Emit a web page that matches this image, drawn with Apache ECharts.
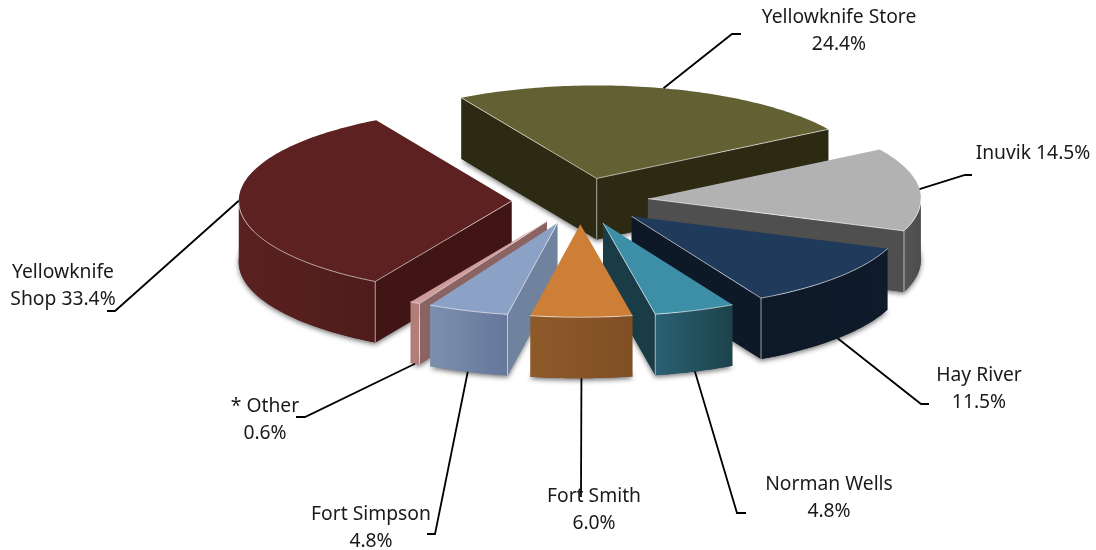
<!DOCTYPE html>
<html>
<head>
<meta charset="utf-8">
<title>Exploded 3D pie</title>
<script src="https://cdn.jsdelivr.net/npm/echarts@6/dist/echarts.min.js"></script>
<style>
  html, body { margin: 0; padding: 0; background: #fff; }
  #chart { width: 1096px; height: 550px; }
</style>
</head>
<body>
<div id="chart"></div>
<script>
// data, clockwise from the first slice
var categories = ['Yellowknife\nShop', 'Yellowknife Store', 'Inuvik', 'Hay River', 'Norman Wells', 'Fort Smith', 'Fort Simpson', '* Other'];
var values = [33.4, 24.4, 14.5, 11.5, 4.8, 6.0, 4.8, 0.6];
var labelSeparators = [' ', '\n', ' ', '\n', '\n', '\n', '\n', '\n'];

// colours
var topColors = ['#5c2120', '#636133', '#b2b2b2', '#203a5c', '#3d8fa8', '#cd7e37', '#8ba1c6', '#cf9b9b'];
var sideColors = ['#411515', '#2d2a14', '#4f4f4f', '#0d1927', '#193c47', '#7f4f24', '#6f829e', '#8c6363'];
var frontStart = ['#5a2120', '#2d2a14', '#555555', '#0d1927', '#2a6074', '#8f5a2a', '#7b90af', '#b27e7c'];
var frontEnd = ['#4f1c1b', '#2d2a14', '#4c4c4c', '#0f1b2a', '#1d434b', '#7f4f24', '#65779a', '#b27e7c'];

// layout
var centerX = 580, centerY = 201, radiusX = 273, radiusY = 93, depth = 61, explode = 0.25;
var startAngle = 240;
var paintOrder = [1, 2, 0, 3, 7, 6, 4, 5]; // slice index per paint step: back to front
var labelPos = [[63, 286], [839, 31], [1033, 154], [979, 389], [829, 498], [594, 510], [371, 528], [265, 420]];
var leaderKnee = [[115, 311, 107], [732, 34, 741], [965, 175, 972], [921, 404, 929], [737, 513, 746], [581, 497, 581], [435, 534, 427], [305, 417, 296]];
var leaderOnTop = [true, true, true, false, false, false, false, false];

var total = values.reduce(function (a, b) { return a + b; }, 0);

function rad(d) { return d * Math.PI / 180; }

function sliceGeometry(i) {
  var before = values.slice(0, i).reduce(function (a, b) { return a + b; }, 0);
  var a0 = startAngle - before / total * 360;
  var a1 = a0 - values[i] / total * 360;
  var mid = (a0 + a1) / 2;
  return {
    a0: a0, a1: a1, mid: mid,
    ax: centerX + explode * radiusX * Math.cos(rad(mid)),
    ay: centerY - explode * radiusY * Math.sin(rad(mid))
  };
}

function rimPoint(g, t, dy) {
  return [g.ax + radiusX * Math.cos(rad(t)), g.ay - radiusY * Math.sin(rad(t)) + (dy || 0)];
}

function rimArc(g, from, to, dy) {
  var pts = [];
  var n = Math.max(2, Math.ceil(Math.abs(from - to)));
  for (var k = 0; k <= n; k++) {
    pts.push(rimPoint(g, from + (to - from) * k / n, dy));
  }
  return pts;
}

var edgeColor = 'rgba(255,255,255,0.6)';

function renderSlice(params, api) {
  var i = params.dataIndex;
  var g = sliceGeometry(i);
  var step = paintOrder.indexOf(i) * 10;
  var children = [];
  var apex = [g.ax, g.ay];
  var apexLow = [g.ax, g.ay + depth];
  var topShape = [apex].concat(rimArc(g, g.a0, g.a1));

  function poly(points, style, z) {
    children.push({ type: 'polygon', shape: { points: points }, style: style, z2: step + z, silent: true });
  }
  function line(points, color, width, z) {
    children.push({ type: 'polyline', shape: { points: points }, style: { stroke: color, lineWidth: width, fill: null }, z2: z, silent: true });
  }

  // soft shadow under the block
  poly([apexLow].concat(rimArc(g, g.a0, g.a1, depth)), {
    fill: sideColors[i], shadowBlur: 5, shadowColor: 'rgba(0,0,0,0.55)', shadowOffsetY: 2
  }, 0);

  // radial walls, only the ones turned to the viewer
  var a0Visible = Math.cos(rad(g.a0)) < 0;
  var a1Visible = Math.cos(rad(g.a1)) > 0;
  if (a0Visible) {
    poly([apex, rimPoint(g, g.a0), rimPoint(g, g.a0, depth), apexLow], { fill: sideColors[i] }, 1);
  }
  if (a1Visible) {
    poly([apex, rimPoint(g, g.a1), rimPoint(g, g.a1, depth), apexLow], { fill: sideColors[i] }, 1);
  }

  // curved wall: part of the rim on the viewer's side
  var from, to;
  if (g.a0 > 180) {
    from = g.a0;
    to = Math.max(g.a1, 180);
  } else {
    from = Math.min(g.a0, 0);
    to = g.a1;
  }
  var frontVisible = from > to;
  if (frontVisible) {
    poly(rimArc(g, from, to).concat(rimArc(g, to, from, depth)), {
      fill: { type: 'linear', x: 0, y: 0, x2: 1, y2: 0, colorStops: [
        { offset: 0, color: frontStart[i] }, { offset: 1, color: frontEnd[i] }
      ] }
    }, 2);
  }

  // top face
  poly(topShape, { fill: topColors[i] }, 3);

  // light edges
  var edgeZ = step + 4;
  if (a0Visible) {
    line([apex, rimPoint(g, g.a0)], edgeColor, 1, edgeZ);
  }
  if (a1Visible) {
    line([apex, rimPoint(g, g.a1)], edgeColor, 1, edgeZ);
  }
  if (a0Visible && a1Visible) {
    line([apex, apexLow], edgeColor, 1, edgeZ);
  }
  if (frontVisible) {
    line(rimArc(g, from, to), edgeColor, 1, edgeZ);
    if (a0Visible) {
      line([rimPoint(g, from), rimPoint(g, from, depth)], edgeColor, 1, edgeZ);
    }
    if (a1Visible) {
      line([rimPoint(g, to), rimPoint(g, to, depth)], edgeColor, 1, edgeZ);
    }
  }

  // leader line starts on the rim at the middle of the slice
  var knee = leaderKnee[i];
  line([rimPoint(g, g.mid, leaderOnTop[i] ? 0 : depth), [knee[0], knee[1]], [knee[2], knee[1]]], '#000000', 1.8, 200);

  // label
  children.push({
    type: 'text',
    z2: 201,
    silent: true,
    style: {
      text: categories[i] + labelSeparators[i] + api.value(0).toFixed(1) + '%',
      x: labelPos[i][0],
      y: labelPos[i][1],
      fill: '#1a1a1a',
      font: '19.3px "Noto Sans", sans-serif',
      lineHeight: 27,
      align: 'center',
      verticalAlign: 'middle'
    }
  });

  return { type: 'group', children: children };
}

var chart = echarts.init(document.getElementById('chart'), null, { renderer: 'canvas' });
chart.setOption({
  backgroundColor: '#ffffff',
  animation: false,
  series: [{
    type: 'custom',
    coordinateSystem: 'none',
    renderItem: renderSlice,
    data: values.map(function (v) { return [v]; })
  }]
});
</script>
</body>
</html>
